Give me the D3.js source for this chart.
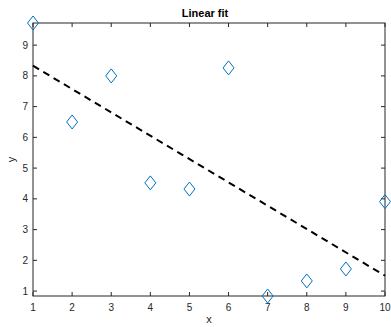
<!DOCTYPE html>
<html>
<head>
<meta charset="utf-8">
<script src="https://cdn.jsdelivr.net/npm/d3@7"></script>
<style>
  body { margin: 0; background: #fff; }
  text { font-family: "Liberation Sans", Arial, sans-serif; }
</style>
</head>
<body>
<div id="chart"></div>
<script>
// data
const xs = [1, 2, 3, 4, 5, 6, 7, 8, 9, 10];
const ys = [9.72, 6.5, 8.0, 4.52, 4.32, 8.26, 0.84, 1.33, 1.72, 3.91];
const fitX = [1, 10];
const fitY = [8.33, 1.50];
const xTicks = [1, 2, 3, 4, 5, 6, 7, 8, 9, 10];
const yTicks = [1, 2, 3, 4, 5, 6, 7, 8, 9];

const width = 391, height = 327;
const margin = { top: 23, right: 6, bottom: 31, left: 33 };
const axColor = '#262626';

let svg = d3.select('#chart').append('svg')
  .attr('width', width)
  .attr('height', height);

let x = d3.scaleLinear().domain([1, 10]).range([margin.left, width - margin.right]);
let y = d3.scaleLinear().domain([0.84, 9.72]).range([height - margin.bottom, margin.top]);

let tick = 4;
let g = svg.append('g');

// box
g.append('rect')
  .attr('x', x(1)).attr('y', y(9.72))
  .attr('width', x(10) - x(1)).attr('height', y(0.84) - y(9.72))
  .attr('fill', 'none').attr('stroke', axColor).attr('stroke-width', 1);

// x ticks (inward, bottom and top)
xTicks.forEach(t => {
  g.append('line').attr('x1', x(t)).attr('x2', x(t))
    .attr('y1', y.range()[0]).attr('y2', y.range()[0] - tick)
    .attr('stroke', axColor);
  g.append('line').attr('x1', x(t)).attr('x2', x(t))
    .attr('y1', y.range()[1]).attr('y2', y.range()[1] + tick)
    .attr('stroke', axColor);
  g.append('text').attr('x', x(t)).attr('y', y.range()[0] + 15)
    .attr('text-anchor', 'middle').attr('font-size', 10).attr('fill', axColor)
    .text(t);
});

// y ticks (inward, left and right)
yTicks.forEach(t => {
  g.append('line').attr('x1', x.range()[0]).attr('x2', x.range()[0] + tick)
    .attr('y1', y(t)).attr('y2', y(t)).attr('stroke', axColor);
  g.append('line').attr('x1', x.range()[1]).attr('x2', x.range()[1] - tick)
    .attr('y1', y(t)).attr('y2', y(t)).attr('stroke', axColor);
  g.append('text').attr('x', x.range()[0] - 5).attr('y', y(t) + 3.5)
    .attr('text-anchor', 'end').attr('font-size', 10).attr('fill', axColor)
    .text(t);
});

// fit line
let line = d3.line().x(d => x(d[0])).y(d => y(d[1]));
svg.append('path')
  .datum(d3.zip(fitX, fitY))
  .attr('d', line)
  .attr('fill', 'none')
  .attr('stroke', '#000')
  .attr('stroke-width', 2)
  .attr('stroke-dasharray', '7,5');

// diamond markers
let hw = 5.5, hh = 7;
svg.selectAll('path.pt')
  .data(d3.zip(xs, ys))
  .enter().append('path')
  .attr('class', 'pt')
  .attr('d', d => {
    let cx = x(d[0]), cy = y(d[1]);
    return `M${cx},${cy - hh}L${cx + hw},${cy}L${cx},${cy + hh}L${cx - hw},${cy}Z`;
  })
  .attr('fill', 'none')
  .attr('stroke', '#0072BD')
  .attr('stroke-width', 1);

// title and labels
svg.append('text').attr('x', 205).attr('y', 17)
  .attr('text-anchor', 'middle').attr('font-size', 11).attr('font-weight', 'bold')
  .attr('fill', '#000').text('Linear fit');
svg.append('text').attr('x', (x(1) + x(10)) / 2).attr('y', 323)
  .attr('text-anchor', 'middle').attr('font-size', 11).attr('fill', axColor).text('x');
svg.append('text')
  .attr('transform', `translate(15, ${(y(0.84) + y(9.72)) / 2}) rotate(-90)`)
  .attr('text-anchor', 'middle').attr('font-size', 11).attr('fill', axColor).text('y');
</script>
</body>
</html>
